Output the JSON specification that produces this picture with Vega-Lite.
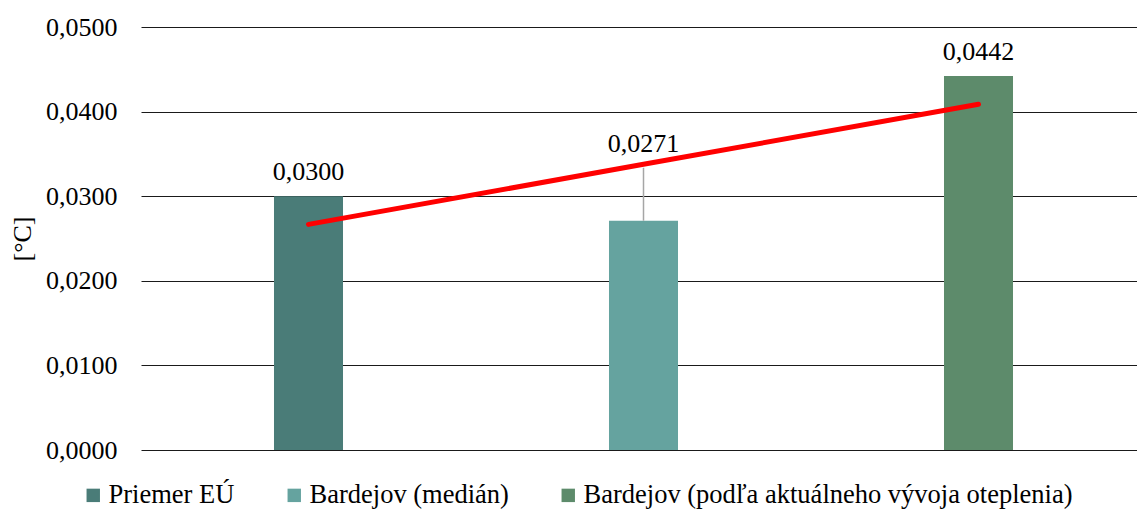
{
  "$schema": "https://vega.github.io/schema/vega-lite/v6.json",
  "autosize": {"type": "none"},
  "padding": {"left": 141, "top": 27, "right": 0, "bottom": 68},
  "width": 1005,
  "height": 423,
  "background": "white",
  "config": {
    "locale": {"number": {"decimal": ",", "thousands": " ", "grouping": [3], "currency": ["", " €"]}},
    "font": "Times New Roman",
    "view": {"stroke": null}
  },
  "data": {
    "values": [
      {"kategoria": "Priemer EÚ", "hodnota": 0.0300, "trend": 0.02667, "popis": "bar"},
      {"kategoria": "Bardejov (medián)", "hodnota": 0.0271, "trend": 0.03377, "popis": "leader"},
      {"kategoria": "Bardejov (podľa aktuálneho vývoja oteplenia)", "hodnota": 0.0442, "trend": 0.04087, "popis": "bar"}
    ]
  },
  "encoding": {
    "x": {
      "field": "kategoria", "type": "nominal", "sort": null,
      "scale": {"paddingInner": 0.794, "paddingOuter": 0.397},
      "axis": null
    }
  },
  "layer": [
    {
      "mark": {"type": "bar"},
      "encoding": {
        "y": {
          "field": "hodnota", "type": "quantitative",
          "scale": {"domain": [0, 0.05], "nice": false},
          "axis": {
            "values": [0, 0.01, 0.02, 0.03, 0.04, 0.05],
            "format": ".4f",
            "title": "[°C]",
            "titleFont": "Times New Roman",
            "titleFontSize": 26,
            "titleFontWeight": "normal",
            "titleColor": "#000",
            "titlePadding": 10,
            "labelFont": "Times New Roman",
            "labelFontSize": 26,
            "labelColor": "#000",
            "labelPadding": 24,
            "ticks": false,
            "domain": false,
            "grid": true,
            "gridColor": "#1a1a1a",
            "gridWidth": 1.2
          }
        },
        "color": {
          "field": "kategoria", "type": "nominal",
          "scale": {
            "domain": ["Priemer EÚ", "Bardejov (medián)", "Bardejov (podľa aktuálneho vývoja oteplenia)"],
            "range": ["#4A7C78", "#65A39F", "#5D8B6B"]
          },
          "legend": {
            "title": null,
            "orient": "none",
            "direction": "horizontal",
            "legendX": -61,
            "legendY": 455,
            "symbolType": "square",
            "symbolSize": 180,
            "symbolStrokeWidth": 0,
            "symbolOpacity": 1,
            "labelFont": "Times New Roman",
            "labelFontSize": 26.5,
            "labelColor": "#000",
            "labelOffset": 2,
            "labelLimit": 600,
            "columnPadding": 46
          }
        }
      }
    },
    {
      "transform": [{"filter": "datum.popis === 'leader'"}],
      "mark": {"type": "rule", "color": "#A6A6A6", "strokeWidth": 1.5, "y2Offset": -53},
      "encoding": {
        "y": {"field": "hodnota", "type": "quantitative"},
        "y2": {"field": "hodnota"}
      }
    },
    {
      "transform": [{"filter": "datum.popis === 'bar'"}],
      "mark": {"type": "text", "baseline": "bottom", "dy": -11, "fontSize": 26, "color": "#000", "font": "Times New Roman"},
      "encoding": {
        "y": {"field": "hodnota", "type": "quantitative"},
        "text": {"field": "hodnota", "type": "quantitative", "format": ".4f"}
      }
    },
    {
      "transform": [{"filter": "datum.popis === 'leader'"}],
      "mark": {"type": "text", "baseline": "bottom", "dy": -64, "fontSize": 26, "color": "#000", "font": "Times New Roman"},
      "encoding": {
        "y": {"field": "hodnota", "type": "quantitative"},
        "text": {"field": "hodnota", "type": "quantitative", "format": ".4f"}
      }
    },
    {
      "mark": {"type": "line", "color": "#FF0000", "strokeWidth": 5, "strokeCap": "round"},
      "encoding": {
        "y": {"field": "trend", "type": "quantitative"}
      }
    }
  ]
}
